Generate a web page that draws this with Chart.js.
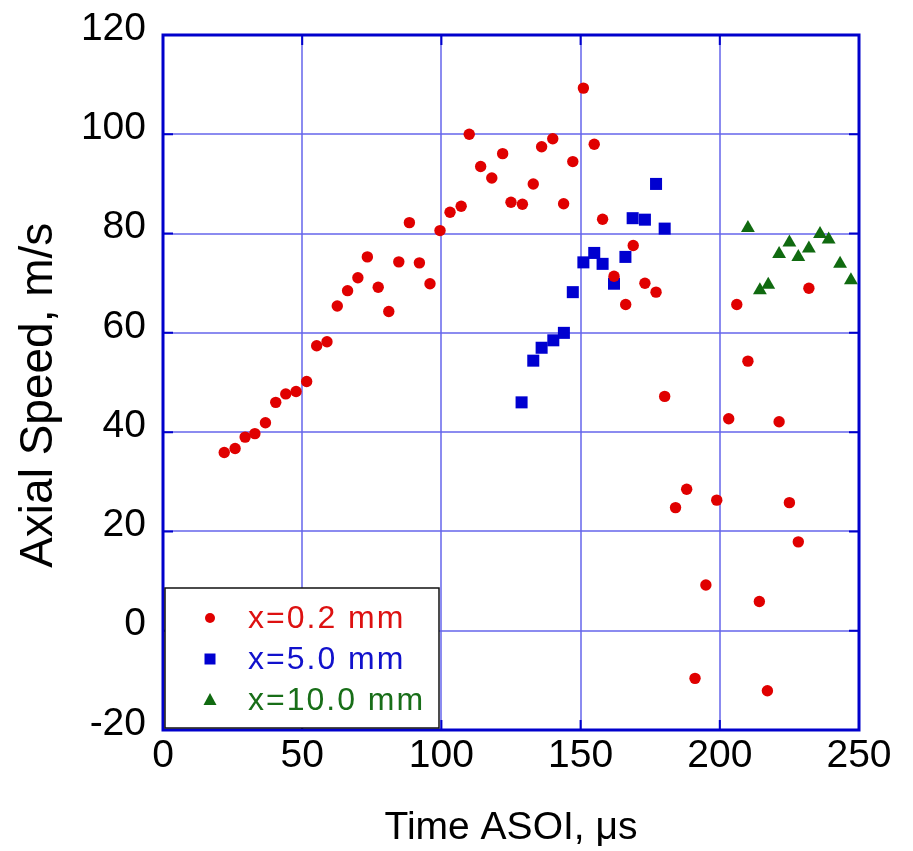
<!DOCTYPE html>
<html>
<head>
<meta charset="utf-8">
<script src="https://cdn.jsdelivr.net/npm/chart.js@4.4.1/dist/chart.umd.min.js"></script>
<style>
    html, body { margin: 0; padding: 0; background: #ffffff; }
    #wrap { width: 913px; height: 851px; position: relative; }
</style>
</head>
<body>
<div id="wrap"><canvas id="speedChart"></canvas></div>
<script>
// x=0.2 mm
const redX = [22.0, 25.9, 29.5, 33.0, 36.8, 40.5, 44.1, 47.8, 51.6, 55.2, 58.9, 62.6, 66.3, 70.0, 73.4, 77.3, 81.1, 84.7, 88.5, 92.1,
    95.9, 99.5, 103.1, 107.1, 110.0, 114.1, 118.1, 122.0, 125.0, 129.1, 133.0, 136.0, 140.0, 143.9, 147.2, 151.0, 154.9, 157.9, 162.0, 166.2,
    168.9, 173.1, 177.1, 180.2, 184.1, 188.1, 191.1, 195.0, 198.9, 203.2, 206.1, 210.1, 214.2, 217.1, 221.3, 225.0, 228.2, 232.0];
const redY = [35.9, 36.7, 39.0, 39.7, 41.9, 46.0, 47.7, 48.2, 50.2, 57.4, 58.2, 65.4, 68.5, 71.1, 75.3, 69.2, 64.3, 74.3, 82.2, 74.1,
    69.9, 80.6, 84.3, 85.5, 100.0, 93.5, 91.2, 96.1, 86.3, 85.9, 90.0, 97.5, 99.1, 86.0, 94.5, 109.3, 98.0, 82.9, 71.4, 65.7,
    77.6, 70.0, 68.2, 47.2, 24.8, 28.5, -9.6, 9.2, 26.3, 42.7, 65.7, 54.3, 5.9, -12.1, 42.1, 25.8, 17.9, 69.0];

// x=5.0 mm
const blueX = [128.8, 133.0, 136.0, 140.2, 144.0, 147.2, 151.0, 154.9, 157.9, 162.0, 166.1, 168.7, 173.1, 177.1, 180.2];
const blueY = [46.0, 54.4, 57.0, 58.5, 60.0, 68.2, 74.2, 76.1, 73.9, 69.9, 75.3, 83.1, 82.8, 90.0, 81.0];

// x=10.0 mm
const greenX = [210.1, 214.4, 217.4, 221.3, 225.0, 228.2, 232.0, 236.0, 239.1, 243.2, 247.1];
const greenY = [81.1, 68.6, 69.7, 75.9, 78.2, 75.3, 77.0, 79.9, 78.8, 73.9, 70.6];

const seriesLabels = ['x=0.2 mm', 'x=5.0 mm', 'x=10.0 mm'];
const xTicks = [0, 50, 100, 150, 200, 250];
const yTicks = [-20, 0, 20, 40, 60, 80, 100, 120];

const FONT = '"Liberation Sans", Arial, sans-serif';
const frameColor = '#0000cc';

function toPoints(xs, ys) {
    return xs.map((x, i) => ({ x: x, y: ys[i] }));
}

// blue box round the plot with short inner ticks
const framePlugin = {
    id: 'frame',
    beforeDatasetsDraw(chart) {
        const ctx = chart.ctx;
        const area = chart.chartArea;
        const xs = chart.scales.x;
        const ys = chart.scales.y;
        ctx.save();
        ctx.strokeStyle = frameColor;
        ctx.lineWidth = 2;
        ctx.beginPath();
        xTicks.forEach(t => {
            const px = xs.getPixelForValue(t);
            ctx.moveTo(px, area.bottom); ctx.lineTo(px, area.bottom - 10);
            ctx.moveTo(px, area.top); ctx.lineTo(px, area.top + 10);
        });
        yTicks.forEach(t => {
            const py = ys.getPixelForValue(t);
            ctx.moveTo(area.left, py); ctx.lineTo(area.left + 10, py);
            ctx.moveTo(area.right, py); ctx.lineTo(area.right - 10, py);
        });
        ctx.stroke();
        ctx.lineWidth = 3;
        ctx.strokeRect(area.left, area.top, area.right - area.left, area.bottom - area.top);
        ctx.restore();
    }
};

// legend box in the lower left corner of the plot
const legendPlugin = {
    id: 'boxLegend',
    afterDatasetsDraw(chart) {
        const ctx = chart.ctx;
        const textColors = ['#dd1111', '#1111cc', '#186e18'];
        const rows = [618, 659, 700];
        ctx.save();
        ctx.fillStyle = '#ffffff';
        ctx.fillRect(165, 588, 274, 140);
        ctx.strokeStyle = '#111111';
        ctx.lineWidth = 1.5;
        ctx.strokeRect(165, 588, 274, 140);

        chart.data.datasets.forEach((ds, i) => {
            const y = rows[i];
            const x = 210;
            ctx.fillStyle = ds.backgroundColor;
            ctx.beginPath();
            if (ds.pointStyle === 'circle') {
                ctx.arc(x, y, 5, 0, Math.PI * 2);
            } else if (ds.pointStyle === 'rect') {
                ctx.rect(x - 5.5, y - 5.5, 11, 11);
            } else {
                ctx.moveTo(x, y - 7);
                ctx.lineTo(x + 6.5, y + 5);
                ctx.lineTo(x - 6.5, y + 5);
                ctx.closePath();
            }
            ctx.fill();

            ctx.font = '32px ' + FONT;
            ctx.letterSpacing = '2px';
            ctx.textBaseline = 'middle';
            ctx.textAlign = 'left';
            ctx.fillStyle = textColors[i];
            ctx.fillText(ds.label, 248, y + 1);
        });
        ctx.restore();
    }
};

const ctxSpeed = document.getElementById('speedChart').getContext('2d');
const speedChart = new Chart(ctxSpeed, {
    type: 'scatter',
    data: {
        datasets: [
            {
                label: seriesLabels[0],
                data: toPoints(redX, redY),
                pointStyle: 'circle',
                pointRadius: 5.7,
                backgroundColor: '#e00000',
                borderColor: '#e00000',
                borderWidth: 0
            },
            {
                label: seriesLabels[1],
                data: toPoints(blueX, blueY),
                pointStyle: 'rect',
                pointRadius: 8.5,
                backgroundColor: '#0000d0',
                borderColor: '#0000d0',
                borderWidth: 0
            },
            {
                label: seriesLabels[2],
                data: toPoints(greenX, greenY),
                pointStyle: 'triangle',
                pointRadius: 8,
                backgroundColor: '#106a10',
                borderColor: '#106a10',
                borderWidth: 0
            }
        ]
    },
    options: {
        responsive: true,
        maintainAspectRatio: false,
        animation: false,
        layout: { padding: { top: 35, right: 54, left: 0, bottom: 0 } },
        plugins: {
            legend: { display: false },
            tooltip: { enabled: false }
        },
        scales: {
            x: {
                type: 'linear',
                min: 0,
                max: 250,
                afterFit: function(scale) {
                    scale.height = 121;
                    scale.paddingLeft = 0;
                    scale.paddingRight = 0;
                },
                afterBuildTicks: function(scale) { scale.ticks = xTicks.map(v => ({ value: v })); },
                ticks: {
                    color: '#000000',
                    font: { family: FONT, size: 39 },
                    padding: 3,
                    maxRotation: 0
                },
                grid: { color: 'rgba(100,100,235,0.75)', lineWidth: 2, drawTicks: false },
                border: { display: false },
                title: {
                    display: true,
                    text: 'Time ASOI, \u03bcs',
                    color: '#000000',
                    font: { family: FONT, size: 39, lineHeight: 1 },
                    padding: { top: 0, bottom: 3 }
                }
            },
            y: {
                type: 'linear',
                min: -20,
                max: 120,
                afterFit: function(scale) {
                    scale.width = 163;
                    scale.paddingTop = 0;
                    scale.paddingBottom = 0;
                },
                afterBuildTicks: function(scale) { scale.ticks = yTicks.map(v => ({ value: v })); },
                ticks: {
                    color: '#000000',
                    font: { family: FONT, size: 39 },
                    padding: 17,
                    labelOffset: -6
                },
                grid: { color: 'rgba(100,100,235,0.75)', lineWidth: 2, drawTicks: false },
                border: { display: false },
                title: {
                    display: true,
                    text: 'Axial Speed, m/s\u00a0\u00a0',
                    color: '#000000',
                    font: { family: FONT, size: 46, lineHeight: 1 },
                    padding: { top: 16, bottom: 0 }
                }
            }
        }
    },
    plugins: [framePlugin, legendPlugin]
});
</script>
</body>
</html>
